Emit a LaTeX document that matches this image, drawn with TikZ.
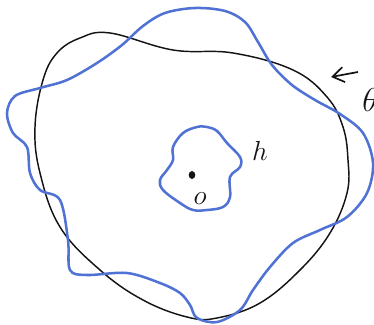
\documentclass[tikz,border=0pt]{standalone}
\usepackage{tikz}
\usetikzlibrary{arrows.meta, shapes.geometric}
\definecolor{penblue}{HTML}{4F72D4}
\definecolor{penblack}{HTML}{141414}
\tikzset{
    outer curve/.style={
        draw=penblack,
        line width=1.1pt,
        line join=round
    },
    blue curve/.style={
        draw=penblue,
        line width=1.9pt,
        line join=round
    },
    hand label/.style={
        font=\fontsize{22}{22}\selectfont,
        text=penblack,
        inner sep=0pt
    }
}
\begin{document}
\begin{tikzpicture}[x=0.02646cm, y=-0.02646cm]
    \useasboundingbox (0,0) rectangle (374,325);

    % Black closed curve
    \draw[outer curve] plot[smooth cycle, tension=0.65] coordinates {
        (110,33) (173,50) (233,53) (293,70) (327,97) (343,127) (348,160)
        (347,193) (330,233) (300,270) (260,303) (217,318) (187,317)
        (143,300) (100,270) (60,227) (40,173) (35,127) (43,80) (57,53) (80,38)
    };

    % Wavy blue outer curve
    \draw[blue curve] plot[smooth cycle, tension=0.55] coordinates {
        (195,8) (225,11) (245,22) (258,42) (272,65) (292,85) (315,100)
        (340,114) (363,133) (373,163) (367,193) (347,217) (320,230)
        (293,243) (270,267) (253,290) (240,310) (217,322) (197,318)
        (190,305) (180,293) (160,283) (127,273) (87,275) (70,270) (68,240)
        (60,200) (40,190) (30,173) (27,147) (13,133) (7,113) (15,96)
        (40,88) (67,80) (97,63) (122,45) (143,26) (165,13)
    };

    % Inner blue curve
    \draw[blue curve] plot[smooth cycle, tension=0.6] coordinates {
        (207,127) (217,131) (227,143) (240,157) (240,167) (230,177)
        (230,197) (223,207) (207,210) (193,210) (180,203) (163,190)
        (160,180) (167,170) (173,160) (173,147) (183,133) (197,127)
    };

    % Origin
    \node[fill=penblack, ellipse, minimum width=5pt, minimum height=6pt, inner sep=0pt] (dot) at (192,175) {};
    \node[hand label] (origin) at (200,199) {$o$};
    \node[hand label] (hlab) at (260,151) {$h$};

    % Arrow and cut-off label
    \coordinate (arrtail) at (358,72);
    \coordinate (arrhead) at (331,77);
    \draw[penblack, line width=1.3pt, -{Straight Barb[length=3mm, width=4mm]}] (arrtail) -- (arrhead);
    \node[hand label, font=\fontsize{30}{30}\selectfont, anchor=west] (theta) at (362,100) {$\theta$};
\end{tikzpicture}
\end{document}
